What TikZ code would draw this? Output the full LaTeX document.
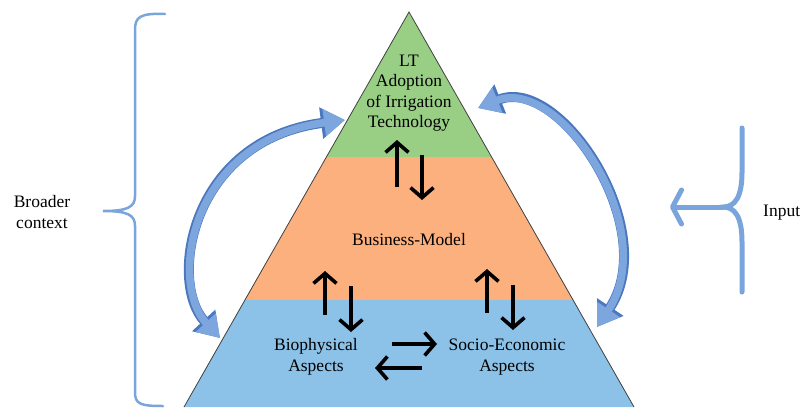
\documentclass[tikz,border=0pt]{standalone}
\usepackage{fontspec}
\setmainfont{Liberation Serif}
\usetikzlibrary{arrows.meta}
\definecolor{layergreen}{HTML}{99CF85}
\definecolor{layerorange}{HTML}{FCB07E}
\definecolor{layerblue}{HTML}{8CC1E8}
\definecolor{bracecol}{HTML}{7AA5DC}
\definecolor{curvefill}{HTML}{7DA6DE}
\definecolor{curveedge}{HTML}{4A77BD}

\begin{document}
\begin{tikzpicture}[x=1pt, y=-1pt,
  txt/.style={align=center, font=\fontsize{17.5}{20.5}\selectfont, inner sep=0pt},
  flow/.style={line width=3.6pt, -{Straight Barb[length=10pt,width=23pt]}},
  curveout/.style={line width=10pt, draw=curveedge, {Triangle[length=24pt,width=30pt]}-{Triangle[length=24pt,width=30pt]}},
  curvein/.style={line width=7.6pt, draw=curvefill, {Triangle[length=21pt,width=26pt]}-{Triangle[length=21pt,width=26pt]}},
  bracket/.style={draw=bracecol, line width=2.5pt, line cap=round}]
\useasboundingbox (0,0) rectangle (802,407);

% pyramid layers
\coordinate (apex) at (409,12);
\coordinate (g-l) at (326.4,157);
\coordinate (g-r) at (491.6,157);
\coordinate (o-l) at (244.8,300);
\coordinate (o-r) at (573.2,300);
\coordinate (b-l) at (184,407);
\coordinate (b-r) at (634,407);
\fill[layergreen] (apex) -- (g-r) -- (g-l) -- cycle;
\fill[layerorange] (g-l) -- (g-r) -- (o-r) -- (o-l) -- cycle;
\fill[layerblue] (o-l) -- (o-r) -- (b-r) -- (b-l) -- cycle;
\draw[black!75, line width=0.8pt] (b-l) -- (apex) -- (b-r);

\node[txt] (lt) at (409,93) {LT\\Adoption\\of Irrigation\\Technology};
\node[txt] (bm) at (409,240) {Business-Model};
\node[txt] (bio) at (316,357) {Biophysical\\Aspects};
\node[txt] (soc) at (507,357) {Socio-Economic\\Aspects};
\node[txt] (ctx) at (42,212) {Broader\\context};
\node[txt, anchor=west] (inp) at (763,213) {Input};

% arrows between the layers
\coordinate (lt-up-s) at (397,187);  \coordinate (lt-up-e) at (397,140);
\coordinate (lt-dn-s) at (422,155);  \coordinate (lt-dn-e) at (422,200);
\coordinate (bio-up-s) at (325,315); \coordinate (bio-up-e) at (325,271);
\coordinate (bio-dn-s) at (351,286); \coordinate (bio-dn-e) at (351,332);
\coordinate (soc-up-s) at (487,313); \coordinate (soc-up-e) at (487,269);
\coordinate (soc-dn-s) at (513,285); \coordinate (soc-dn-e) at (513,330);
\coordinate (bs-s) at (392,344); \coordinate (bs-e) at (437,344);
\coordinate (sb-s) at (422,368); \coordinate (sb-e) at (375,368);
\draw[flow] (lt-up-s) -- (lt-up-e);
\draw[flow] (lt-dn-s) -- (lt-dn-e);
\draw[flow] (bio-up-s) -- (bio-up-e);
\draw[flow] (bio-dn-s) -- (bio-dn-e);
\draw[flow] (soc-up-s) -- (soc-up-e);
\draw[flow] (soc-dn-s) -- (soc-dn-e);
\draw[flow] (bs-s) -- (bs-e);
\draw[flow] (sb-s) -- (sb-e);

% curved arrows outside
\coordinate (lt-w) at (345,120);
\coordinate (bio-w) at (220,338);
\coordinate (lt-e) at (478,108);
\coordinate (soc-e) at (597,327);
\draw[curveout] (bio-w) .. controls (168,282) and (190,140) .. (lt-w);
\draw[curvein] (bio-w) .. controls (168,282) and (190,140) .. (lt-w);
\draw[curveout] (lt-e) .. controls (560,75) and (662,230) .. (soc-e);
\draw[curvein] (lt-e) .. controls (560,75) and (662,230) .. (soc-e);

% brace
\draw[bracket] (165,14) .. controls (140,13) and (135,17) .. (135,30) -- (135,196)
  .. controls (135,207) and (128,211) .. (103,211)
  .. controls (128,211) and (135,215) .. (135,226) -- (135,392)
  .. controls (135,404) and (140,406) .. (163,406);

% input
\coordinate (in-top) at (742,128);
\coordinate (in-mid) at (723,207);
\coordinate (in-bot) at (742,292);
\coordinate (in-tip) at (670,207);
\draw[bracecol, line width=5pt, line cap=round] (in-top) -- (742,172)
  .. controls (742,197) and (735,207) .. (in-mid)
  .. controls (735,207) and (742,217) .. (742,242) -- (in-bot);
\draw[bracecol, line width=5pt, line cap=round, -{Straight Barb[round,length=9pt,width=34pt]}] (in-mid) -- (in-tip);
\end{tikzpicture}
\end{document}
